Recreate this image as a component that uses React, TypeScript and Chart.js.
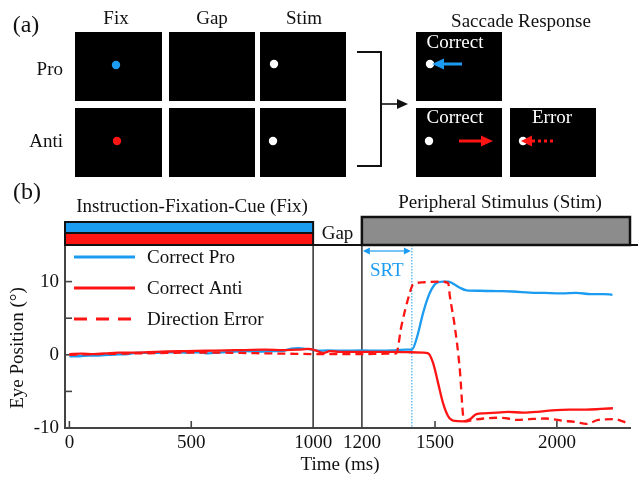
import React, { useEffect, useRef } from "react";
import { Chart, registerables } from "chart.js";

Chart.register(...registerables);

const FONT = "'Liberation Serif', 'Times New Roman', serif";
const BLUE = "#1c9cf0";
const RED = "#ff1414";

// ---- data (time in ms, eye position in degrees) ----
const proTime = [0, 40, 80, 120, 160, 200, 240, 280, 330, 380, 430, 480, 530, 570, 610, 660, 720, 780, 840, 880, 910, 940, 970, 1000, 1020, 1060, 1120, 1200, 1260, 1320, 1380, 1405, 1427, 1451, 1478, 1506, 1533, 1555, 1575, 1600, 1630, 1684, 1752, 1820, 1889, 1950, 2020, 2080, 2140, 2190, 2228];
const proPos = [-0.2, -0.2, -0.1, -0.1, 0.0, 0.05, 0.1, 0.3, 0.25, 0.3, 0.35, 0.3, 0.35, 0.2, 0.3, 0.4, 0.5, 0.45, 0.5, 0.55, 0.85, 0.9, 0.8, 0.7, 0.55, 0.6, 0.55, 0.6, 0.55, 0.6, 0.7, 0.7, 2.5, 5.7, 8.4, 9.8, 10.0, 10.0, 9.7, 9.2, 8.8, 8.75, 8.7, 8.65, 8.5, 8.45, 8.4, 8.45, 8.3, 8.3, 8.2];

const antiTime = [0, 50, 100, 150, 200, 260, 320, 400, 480, 560, 640, 720, 800, 880, 940, 980, 1010, 1040, 1070, 1110, 1160, 1200, 1260, 1330, 1400, 1450, 1472, 1492, 1513, 1533, 1554, 1574, 1615, 1643, 1670, 1700, 1752, 1800, 1862, 1920, 1980, 2052, 2120, 2180, 2230];
const antiPos = [0.1, 0.15, 0.1, 0.2, 0.3, 0.3, 0.35, 0.45, 0.5, 0.55, 0.6, 0.65, 0.7, 0.65, 0.7, 0.8, 0.6, 0.25, 0.5, 0.4, 0.4, 0.4, 0.4, 0.4, 0.35, 0.3, 0.2, -1.1, -3.9, -6.6, -8.4, -9.0, -9.1, -8.8, -8.1, -8.0, -7.9, -7.8, -7.9, -7.8, -7.6, -7.5, -7.5, -7.4, -7.3];

const errTime = [0, 60, 120, 200, 300, 400, 500, 600, 700, 800, 900, 1000, 1100, 1200, 1300, 1341, 1362, 1396, 1410, 1451, 1520, 1554, 1561, 1581, 1602, 1615, 1622, 1656, 1700, 1752, 1800, 1834, 1886, 1950, 2020, 2080, 2120, 2170, 2237, 2287];
const errPos = [0.0, 0.05, 0.1, 0.15, 0.2, 0.25, 0.3, 0.3, 0.25, 0.2, 0.15, 0.1, 0.1, 0.1, 0.15, 0.2, 3.9, 8.4, 9.6, 9.9, 10.0, 9.8, 8.0, 3.9, -2.1, -8.2, -9.1, -8.9, -8.7, -8.6, -8.7, -8.9, -8.8, -8.7, -9.0, -9.2, -9.45, -8.9, -8.8, -9.3];

const seriesLabels = ["Correct Pro", "Correct Anti", "Direction Error"];
const xTickValues = [0, 500, 1000, 1200, 1500, 2000];
const yTickValues = [-10, -5, 0, 5, 10];
const yLabelValues = [-10, 0, 10];
const fixEnd = 1000;
const gapEnd = 1200;
const srtTime = 1405;
const xMin = -18;
const xMax = 2300;

function toPoints(t: number[], v: number[]) {
  return t.map((x, i) => ({ x, y: v[i] }));
}

function arrow(
  ctx: CanvasRenderingContext2D,
  x1: number, y1: number, x2: number, y2: number,
  color: string, lw: number, headLen: number, headW: number, dash: number[] = []
) {
  const ang = Math.atan2(y2 - y1, x2 - x1);
  const bx = x2 - headLen * Math.cos(ang);
  const by = y2 - headLen * Math.sin(ang);
  ctx.strokeStyle = color;
  ctx.lineWidth = lw;
  ctx.setLineDash(dash);
  ctx.beginPath();
  ctx.moveTo(x1, y1);
  ctx.lineTo(bx, by);
  ctx.stroke();
  ctx.setLineDash([]);
  ctx.fillStyle = color;
  ctx.beginPath();
  ctx.moveTo(x2, y2);
  ctx.lineTo(bx - headW * Math.sin(ang), by + headW * Math.cos(ang));
  ctx.lineTo(bx + headW * Math.sin(ang), by - headW * Math.cos(ang));
  ctx.closePath();
  ctx.fill();
}

function dot(ctx: CanvasRenderingContext2D, x: number, y: number, r: number, color: string) {
  ctx.fillStyle = color;
  ctx.beginPath();
  ctx.arc(x, y, r, 0, Math.PI * 2);
  ctx.fill();
}

function text(ctx: CanvasRenderingContext2D, s: string, x: number, y: number, size: number, color = "#111", align: CanvasTextAlign = "center") {
  ctx.font = `${size}px ${FONT}`;
  ctx.fillStyle = color;
  ctx.textAlign = align;
  ctx.textBaseline = "middle";
  ctx.fillText(s, x, y);
}

function drawPanelA(ctx: CanvasRenderingContext2D) {
  text(ctx, "(a)", 26, 26, 24);
  text(ctx, "Fix", 116, 19, 19);
  text(ctx, "Gap", 212, 19, 19);
  text(ctx, "Stim", 304, 19, 19);
  text(ctx, "Saccade Response", 521, 22, 19);
  text(ctx, "Pro", 63, 70, 19, "#111", "right");
  text(ctx, "Anti", 63, 142, 19, "#111", "right");

  ctx.fillStyle = "#000";
  const cols = [[75, 162], [169, 255], [260, 346]];
  for (const [x0, x1] of cols) {
    ctx.fillRect(x0, 32, x1 - x0, 69);
    ctx.fillRect(x0, 108, x1 - x0, 69);
  }
  ctx.fillRect(416, 32, 86, 69);
  ctx.fillRect(416, 108, 86, 69);
  ctx.fillRect(510, 108, 86, 69);

  dot(ctx, 116, 65, 4.2, BLUE);
  dot(ctx, 117, 141, 4.2, RED);
  dot(ctx, 274, 64, 4.2, "#fff");
  dot(ctx, 273, 141, 4.2, "#fff");

  text(ctx, "Correct", 455, 43, 19, "#fff");
  text(ctx, "Correct", 455, 118, 19, "#fff");
  text(ctx, "Error", 552, 118, 19, "#fff");
  dot(ctx, 430, 64, 4.2, "#fff");
  dot(ctx, 429, 141, 4.2, "#fff");
  dot(ctx, 523, 141, 4.2, "#fff");
  arrow(ctx, 462, 64, 432, 64, BLUE, 3, 12, 5.5);
  arrow(ctx, 459, 141, 493, 141, RED, 3, 12, 5.5);
  arrow(ctx, 553, 141, 521, 141, RED, 3, 11, 5.5, [3, 3]);

  // bracket
  ctx.strokeStyle = "#111";
  ctx.lineWidth = 2;
  ctx.beginPath();
  ctx.moveTo(357, 52);
  ctx.lineTo(381, 52);
  ctx.lineTo(381, 166);
  ctx.lineTo(357, 166);
  ctx.stroke();
  arrow(ctx, 381, 104, 408, 104, "#111", 1.6, 11, 5);
}

const figurePlugin = {
  id: "figure",
  beforeDatasetsDraw(chart: any) {
    const { ctx, chartArea: a, scales } = chart;
    const x = scales.x;
    const y = scales.y;
    ctx.save();
    // phase boundaries
    ctx.strokeStyle = "#3c3c3c";
    ctx.lineWidth = 1.6;
    for (const t of [fixEnd, gapEnd]) {
      const px = x.getPixelForValue(t);
      ctx.beginPath();
      ctx.moveTo(px, a.top);
      ctx.lineTo(px, a.bottom);
      ctx.stroke();
    }
    // SRT dotted line
    const sp = x.getPixelForValue(srtTime);
    ctx.strokeStyle = BLUE;
    ctx.lineWidth = 1;
    ctx.setLineDash([1.5, 1.5]);
    ctx.beginPath();
    ctx.moveTo(sp, a.top);
    ctx.lineTo(sp, a.bottom);
    ctx.stroke();
    ctx.setLineDash([]);
    // inward tick marks
    ctx.strokeStyle = "#444";
    ctx.lineWidth = 1.6;
    for (const v of yTickValues) {
      const py = y.getPixelForValue(v);
      ctx.beginPath();
      ctx.moveTo(a.left, py);
      ctx.lineTo(a.left + 7, py);
      ctx.stroke();
    }
    for (const v of xTickValues) {
      if (v === fixEnd || v === gapEnd) continue;
      const px = x.getPixelForValue(v);
      ctx.beginPath();
      ctx.moveTo(px, a.bottom);
      ctx.lineTo(px, a.bottom - 7);
      ctx.stroke();
    }
    ctx.restore();
  },
  afterDraw(chart: any) {
    const { ctx, chartArea: a, scales, width } = chart;
    const x = scales.x;
    ctx.save();
    drawPanelA(ctx);

    text(ctx, "(b)", 27, 193, 24);
    const fx = x.getPixelForValue(fixEnd);
    const gx = x.getPixelForValue(gapEnd);
    const sp = x.getPixelForValue(srtTime);
    text(ctx, "Instruction-Fixation-Cue (Fix)", (a.left + fx) / 2 + 3, 207, 19);
    text(ctx, "Peripheral Stimulus (Stim)", 500, 203, 19);
    text(ctx, "Gap", (fx + gx) / 2, 234, 19);

    // Fix bars
    ctx.fillStyle = BLUE;
    ctx.fillRect(a.left, 222, fx - a.left, 11);
    ctx.fillStyle = RED;
    ctx.fillRect(a.left, 233, fx - a.left, 12);
    ctx.strokeStyle = "#111";
    ctx.lineWidth = 2;
    ctx.strokeRect(a.left, 222, fx - a.left, 23);
    ctx.beginPath();
    ctx.moveTo(a.left, 233);
    ctx.lineTo(fx, 233);
    ctx.stroke();
    // Stim bar
    ctx.fillStyle = "#8c8c8c";
    ctx.fillRect(gx, 217, a.right - gx, 28);
    ctx.lineWidth = 2.5;
    ctx.strokeRect(gx, 217, a.right - gx, 28);
    // top border line of plot
    ctx.lineWidth = 2;
    ctx.beginPath();
    ctx.moveTo(a.left, a.top);
    ctx.lineTo(width, a.top);
    ctx.stroke();

    // SRT arrow
    const ay = a.top + 6;
    arrow(ctx, (gx + sp) / 2, ay, gx + 1, ay, BLUE, 1.2, 7, 3.5);
    arrow(ctx, (gx + sp) / 2, ay, sp - 1, ay, BLUE, 1.2, 7, 3.5);
    text(ctx, "SRT", (gx + sp) / 2, 271, 19, BLUE);

    // legend
    const ds = chart.data.datasets;
    const rows = [257, 288, 319];
    ds.forEach((d: any, i: number) => {
      ctx.strokeStyle = d.borderColor;
      ctx.lineWidth = 3;
      ctx.setLineDash(d.borderDash ? [13, 9] : []);
      ctx.beginPath();
      ctx.moveTo(74, rows[i]);
      ctx.lineTo(135, rows[i]);
      ctx.stroke();
      ctx.setLineDash([]);
      text(ctx, d.label, 147, rows[i] + 1, 19, "#111", "left");
    });

    // axis titles
    text(ctx, "Time (ms)", 340, 465, 19);
    ctx.translate(18, 348);
    ctx.rotate(-Math.PI / 2);
    text(ctx, "Eye Position (°)", 0, 0, 19);
    ctx.restore();
  },
};

export default function App() {
  const ref = useRef<HTMLCanvasElement>(null);
  useEffect(() => {
    const tickFont = { family: FONT, size: 19 };
    const chart = new Chart(ref.current as HTMLCanvasElement, {
      type: "line",
      data: {
        datasets: [
          {
            label: seriesLabels[0],
            data: toPoints(proTime, proPos),
            borderColor: BLUE,
            borderWidth: 2.3,
            pointRadius: 0,
            cubicInterpolationMode: "monotone",
            order: 2,
          },
          {
            label: seriesLabels[1],
            data: toPoints(antiTime, antiPos),
            borderColor: RED,
            borderWidth: 2.3,
            pointRadius: 0,
            cubicInterpolationMode: "monotone",
            order: 0,
          },
          {
            label: seriesLabels[2],
            data: toPoints(errTime, errPos),
            borderColor: RED,
            borderWidth: 2.3,
            borderDash: [8, 5],
            pointRadius: 0,
            cubicInterpolationMode: "monotone",
            order: 1,
          },
        ],
      },
      options: {
        animation: false,
        responsive: false,
        maintainAspectRatio: false,
        devicePixelRatio: 1,
        layout: { padding: { top: 245, left: 0, right: 8, bottom: 0 } },
        plugins: { legend: { display: false }, tooltip: { enabled: false } },
        scales: {
          x: {
            type: "linear",
            min: xMin,
            max: xMax,
            afterFit: (s: any) => {
              s.height = 51;
            },
            afterBuildTicks: (s: any) => {
              s.ticks = xTickValues.map((v) => ({ value: v }));
            },
            grid: { display: false, drawTicks: false },
            border: { display: true, color: "#444", width: 2 },
            ticks: {
              autoSkip: false,
              maxRotation: 0,
              padding: 4,
              color: "#111",
              font: tickFont,
              callback: (v: any) => String(v),
            },
          },
          y: {
            type: "linear",
            min: -10,
            max: 15,
            afterFit: (s: any) => {
              s.width = 65;
            },
            afterBuildTicks: (s: any) => {
              s.ticks = yTickValues.map((v) => ({ value: v }));
            },
            grid: { display: false, drawTicks: false },
            border: { display: true, color: "#444", width: 2 },
            ticks: {
              padding: 6,
              color: "#111",
              font: tickFont,
              callback: (v: any) => (yLabelValues.includes(Number(v)) ? String(v) : ""),
            },
          },
        },
      },
      plugins: [figurePlugin],
    } as any);
    return () => chart.destroy();
  }, []);
  return (
    <div style={{ position: "absolute", left: 0, top: 0, width: 638, height: 479, background: "#fff" }}>
      <canvas ref={ref} width={638} height={479} style={{ display: "block", width: 638, height: 479 }} />
    </div>
  );
}
